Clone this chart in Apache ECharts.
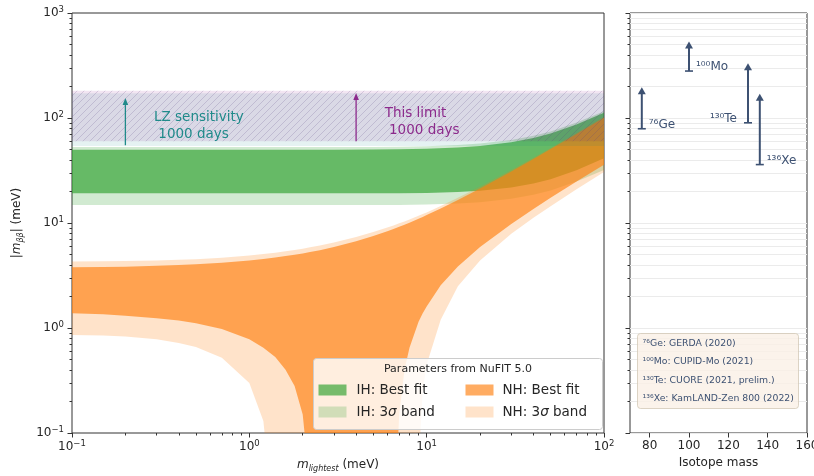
<!DOCTYPE html>
<html><head><meta charset="utf-8">
<script src="https://cdn.jsdelivr.net/npm/echarts@6/dist/echarts.min.js"></script>
<style>html,body{margin:0;padding:0;background:#fff}#c{width:814px;height:476px}</style>
</head><body><div id="c"></div>
<script>
// ---- data (meV) ----
const mLight   = [0.1,0.15,0.2,0.3,0.4,0.5,0.7,1.0,1.2,1.4,1.6,1.8,2.0,2.2,2.5,3,4,5,6,6.5,7,7.5,8,9,9.5,10,12,15,20,30,40,50,70,100];
const nhBestHi = [3.78,3.81,3.84,3.91,3.98,4.05,4.19,4.40,4.54,4.69,4.84,4.98,5.13,5.28,5.51,5.90,6.69,7.50,8.34,8.77,9.20,9.64,10.08,10.98,11.43,11.89,13.74,16.55,21.3,31.0,40.8,50.7,70.5,100.5];
const nhBestLo = [1.38,1.35,1.31,1.24,1.18,1.11,0.98,0.78,0.65,0.53,0.40,0.28,0.15,0.03,0.01,0.01,0.01,0.01,0.01,0.01,0.15,0.40,0.65,1.15,1.38,1.60,2.55,3.85,5.9,9.8,13.6,17.4,24.8,35.8];
const nh3Hi    = [4.30,4.32,4.35,4.40,4.46,4.52,4.66,4.90,5.06,5.22,5.38,5.54,5.70,5.86,6.10,6.52,7.35,8.20,9.05,9.48,9.92,10.36,10.80,11.70,12.15,12.60,14.50,17.40,22.2,32.0,41.8,51.8,71.8,102.5];
const nh3Lo    = [0.86,0.85,0.83,0.78,0.72,0.66,0.52,0.30,0.13,0.01,0.01,0.01,0.01,0.01,0.01,0.01,0.01,0.01,0.01,0.01,0.01,0.01,0.01,0.05,0.25,0.45,1.2,2.5,4.4,7.9,11.2,14.4,21.0,30.6];

const ihM      = [0.1,0.5,1,2,3,5,7,10,15,20,30,40,50,70,100];
const ihBestHi = [49.8,49.8,49.8,49.9,49.95,50.15,50.45,51.0,52.4,54.1,58.6,64.5,71.0,86.7,112.4];
const ihBestLo = [19.15,19.15,19.15,19.15,19.15,19.15,19.2,19.35,19.7,20.25,21.8,23.8,26.1,31.8,41.3];
const ih3Hi    = [52.8,52.8,52.8,52.8,52.8,53.0,53.3,53.9,55.4,57.2,61.8,67.8,74.5,90.5,116];
const ih3Lo    = [14.8,14.8,14.8,14.8,14.8,14.8,14.85,15.0,15.3,15.8,17.0,18.6,20.4,24.8,32.0];

const bandM = [0.1, 100];
const lzLo  = [54, 54],  lzHi  = [172, 172];
const limLo = [60, 60],  limHi = [182, 182];

const annoM = [0.2, 4.0], annoFrom = [55, 60], annoTo = [155, 173];
const annoTextM = [0.29, 5.8], annoTextTop = [123, 134];
const annoText = ['LZ sensitivity\n 1000 days', 'This limit\n 1000 days'];

const isoMass = [76, 100, 130, 136];
const isoLo   = [79, 280, 90, 36];
const isoHi   = [180, 490, 305, 156];
const isoNames = ['\u2077\u2076Ge', '\u00b9\u2070\u2070Mo', '\u00b9\u00b3\u2070Te', '\u00b9\u00b3\u2076Xe'];
const isoSide  = ['right', 'right', 'left', 'right'];
const isoRefs  = ['\u2077\u2076Ge: GERDA (2020)', '\u00b9\u2070\u2070Mo: CUPID-Mo (2021)', '\u00b9\u00b3\u2070Te: CUORE (2021, prelim.)', '\u00b9\u00b3\u2076Xe: KamLAND-Zen 800 (2022)'];

const xMajor = [0.1, 1, 10, 100];
const xMinor = [0.2,0.3,0.4,0.5,0.6,0.7,0.8,0.9,2,3,4,5,6,7,8,9,20,30,40,50,60,70,80,90];
const yMajor = [0.1, 1, 10, 100, 1000];
const yMinor = [0.2,0.3,0.4,0.5,0.6,0.7,0.8,0.9,2,3,4,5,6,7,8,9,20,30,40,50,60,70,80,90,200,300,400,500,600,700,800,900];
const massTicks = [80, 100, 120, 140, 160];

// ---- styles ----
const FONT = 'DejaVu Sans';
const TXT = '#262626';
const C_IH3 = 'rgba(44,160,44,0.22)', C_IH = 'rgba(44,160,44,0.65)';
const C_NH3 = 'rgba(255,127,14,0.22)', C_NH = 'rgba(255,127,14,0.65)';
const C_TEAL = '#1f8a8a', C_PURP = '#8c2a8c', C_ISO = '#3d5172';

const pat = document.createElement('canvas');
pat.width = 7; pat.height = 7;
(function(){const g = pat.getContext('2d'); g.strokeStyle = 'rgba(90,70,130,0.2)'; g.lineWidth = 1;
 g.beginPath(); g.moveTo(0,7); g.lineTo(7,0); g.moveTo(-1,1); g.lineTo(1,-1); g.moveTo(6,8); g.lineTo(8,6); g.stroke();})();
const HATCH = {image: pat, repeat: 'repeat'};

function band(name, xs, lo, hi, fills) {
  return {
    type: 'custom', name, xAxisIndex: 0, yAxisIndex: 0, clip: true, silent: true, z: 2,
    data: xs.map((x, i) => [x, lo[i], hi[i]]),
    encode: {x: 0, y: [1, 2]},
    renderItem: (params, api) => {
      if (params.dataIndex !== 0) return null;
      const pts = [];
      for (let i = 0; i < xs.length; i++) pts.push(api.coord([xs[i], hi[i]]));
      for (let i = xs.length - 1; i >= 0; i--) pts.push(api.coord([xs[i], lo[i]]));
      return {type: 'group', children: fills.map(f => ({type: 'polygon', shape: {points: pts}, style: {fill: f}}))};
    }
  };
}
function txtStyle(o) {
  const s = Object.assign({fontFamily: FONT}, o);
  if (o.align) s.textAlign = o.align;
  if (o.verticalAlign) s.textVerticalAlign = o.verticalAlign;
  if (o.fill) s.textFill = o.fill;
  if (o.lineHeight) s.textLineHeight = o.lineHeight;
  return s;
}
function onTop(el) { el.z = 200; el.zlevel = 1; return el; }

const powFmt = v => '{b|10}{s|' + String(Math.round(Math.log10(v))).replace('-', '\u2212') + '}';
const powRich = {
  b: {fontSize: 12, fontFamily: FONT, color: TXT, lineHeight: 16},
  s: {fontSize: 8.5, fontFamily: FONT, color: TXT, lineHeight: 8, verticalAlign: 'top'}
};
const nameRich = {
  n: {fontSize: 12, fontFamily: FONT, color: TXT, lineHeight: 16},
  i: {fontSize: 12, fontFamily: FONT, color: TXT, fontStyle: 'italic', lineHeight: 16},
  sub: {fontSize: 8, fontFamily: FONT, color: TXT, fontStyle: 'italic', lineHeight: 8, verticalAlign: 'bottom'}
};
const tickStyle = {color: '#333', width: 1};
const sigRich = {i: {fontStyle: 'italic', fontSize: 13.5, fontFamily: FONT, fill: TXT, textFill: TXT, color: TXT}};

const option = {
  animation: false,
  backgroundColor: '#ffffff',
  grid: [
    {left: 72, top: 13, width: 532, height: 420, show: true, borderColor: '#333', borderWidth: 1, backgroundColor: 'rgba(0,0,0,0)', containLabel: false, outerBoundsMode: 'none'},
    {left: 630, top: 13, width: 177, height: 420, show: true, borderColor: '#333', borderWidth: 1, backgroundColor: 'rgba(0,0,0,0)', containLabel: false, outerBoundsMode: 'none'},
    {left: 72, top: 13, width: 532, height: 420, containLabel: false, outerBoundsMode: 'none'},
    {left: 630, top: 13, width: 177, height: 420, containLabel: false, outerBoundsMode: 'none'}
  ],
  xAxis: [
    {gridIndex: 0, type: 'log', logBase: 10, min: 0.1, max: 100, position: 'bottom',
     axisLine: {show: false}, splitLine: {show: false},
     axisTick: {show: true, length: 4.5, lineStyle: tickStyle, customValues: xMajor},
     axisLabel: {show: true, customValues: xMajor, formatter: powFmt, rich: powRich, margin: 6, showMinLabel: true, showMaxLabel: true},
     name: '{i|m}{sub|lightest} {n|(meV)}', nameLocation: 'middle', nameGap: 24,
     nameTextStyle: {rich: nameRich, fontFamily: FONT, fontSize: 12, color: TXT}},
    {gridIndex: 1, type: 'value', min: 70, max: 160, position: 'bottom',
     axisLine: {show: false}, splitLine: {show: false},
     axisTick: {show: true, length: 4.5, lineStyle: tickStyle, customValues: massTicks},
     axisLabel: {show: true, customValues: massTicks, fontSize: 12, fontFamily: FONT, color: TXT, margin: 7, showMinLabel: true, showMaxLabel: true},
     name: 'Isotope mass', nameLocation: 'middle', nameGap: 23,
     nameTextStyle: {fontFamily: FONT, fontSize: 12, color: TXT}},
    {gridIndex: 2, type: 'log', logBase: 10, min: 0.1, max: 100, position: 'bottom',
     axisLine: {show: false}, splitLine: {show: false}, axisLabel: {show: false},
     axisTick: {show: true, length: 2.5, lineStyle: tickStyle, customValues: xMinor}},
    {gridIndex: 3, type: 'value', min: 70, max: 160, show: false}
  ],
  yAxis: [
    {gridIndex: 0, type: 'log', logBase: 10, min: 0.1, max: 1000, position: 'left',
     axisLine: {show: false}, splitLine: {show: false},
     axisTick: {show: true, length: 4.5, lineStyle: tickStyle, customValues: yMajor},
     axisLabel: {show: true, customValues: yMajor, formatter: powFmt, rich: powRich, margin: 8, showMinLabel: true, showMaxLabel: true},
     name: '|{i|m}{sub|\u03b2\u03b2}| {n|(meV)}', nameLocation: 'middle', nameGap: 43, nameRotate: 90,
     nameTextStyle: {rich: nameRich, fontFamily: FONT, fontSize: 12, color: TXT}},
    {gridIndex: 1, type: 'log', logBase: 10, min: 0.1, max: 1000, position: 'left',
     axisLine: {show: false}, axisLabel: {show: false},
     axisTick: {show: true, length: 4.5, lineStyle: tickStyle, customValues: yMajor},
     splitLine: {show: true, lineStyle: {color: '#ebebeb', width: 1}}},
    {gridIndex: 2, type: 'log', logBase: 10, min: 0.1, max: 1000, position: 'left',
     axisLine: {show: false}, axisLabel: {show: false}, splitLine: {show: false},
     axisTick: {show: true, length: 2.5, lineStyle: tickStyle, customValues: yMinor}},
    {gridIndex: 3, type: 'log', logBase: 10, min: 0.1, max: 1000, position: 'left',
     axisLine: {show: false}, axisLabel: {show: false},
     axisTick: {show: true, length: 2.5, lineStyle: tickStyle, customValues: yMinor},
     splitLine: {show: true, lineStyle: {color: '#ebebeb', width: 1}}}
  ],
  series: [
    band('IH 3sigma', ihM, ih3Lo, ih3Hi, [C_IH3]),
    band('IH best', ihM, ihBestLo, ihBestHi, [C_IH]),
    band('NH 3sigma', mLight, nh3Lo, nh3Hi, [C_NH3]),
    band('NH best', mLight, nhBestLo, nhBestHi, [C_NH]),
    band('LZ', bandM, lzLo, lzHi, ['rgba(0,128,128,0.1)']),
    band('This limit', bandM, limLo, limHi, ['rgba(128,0,128,0.1)', HATCH]),
    {
      type: 'custom', name: 'annotations', xAxisIndex: 0, yAxisIndex: 0, silent: true, z: 3,
      data: annoM.map((m, i) => [m, annoFrom[i], annoTo[i]]),
      encode: {x: 0, y: [1, 2]},
      renderItem: (params, api) => {
        const i = params.dataIndex;
        const col = i === 0 ? C_TEAL : C_PURP;
        const p0 = api.coord([annoM[i], annoFrom[i]]);
        const p1 = api.coord([annoM[i], annoTo[i]]);
        const t = api.coord([annoTextM[i], annoTextTop[i]]);
        return {type: 'group', children: [
          {type: 'line', shape: {x1: p0[0], y1: p0[1], x2: p1[0], y2: p1[1] + 5}, style: {stroke: col, lineWidth: 1.3}},
          {type: 'polygon', shape: {points: [[p1[0], p1[1]], [p1[0] - 2.8, p1[1] + 7], [p1[0] + 2.8, p1[1] + 7]]}, style: {fill: col}},
          {type: 'text', x: t[0], y: t[1], style: txtStyle({text: annoText[i], fill: col, fontSize: 13.5, lineHeight: 17, align: 'left', verticalAlign: 'top'})}
        ]};
      }
    },
    {
      type: 'custom', name: 'isotopes', xAxisIndex: 1, yAxisIndex: 1, silent: true, z: 3,
      data: isoMass.map((m, i) => [m, isoLo[i], isoHi[i]]),
      encode: {x: 0, y: [1, 2]},
      renderItem: (params, api) => {
        const i = params.dataIndex;
        const pLo = api.coord([api.value(0), api.value(1)]);
        const pHi = api.coord([api.value(0), api.value(2)]);
        const right = isoSide[i] === 'right';
        return {type: 'group', children: [
          {type: 'line', shape: {x1: pLo[0], y1: pLo[1], x2: pHi[0], y2: pHi[1] + 2}, style: {stroke: C_ISO, lineWidth: 2}},
          {type: 'line', shape: {x1: pLo[0] - 4, y1: pLo[1], x2: pLo[0] + 4, y2: pLo[1]}, style: {stroke: C_ISO, lineWidth: 1.6}},
          {type: 'polygon', shape: {points: [[pHi[0], pHi[1] - 4], [pHi[0] - 4, pHi[1] + 3], [pHi[0] + 4, pHi[1] + 3]]}, style: {fill: C_ISO}},
          {type: 'text', x: pLo[0] + (right ? 7 : -11), y: pLo[1] - 4,
           style: txtStyle({text: isoNames[i], fill: C_ISO, fontSize: 12, align: right ? 'left' : 'right', verticalAlign: 'middle'})}
        ]};
      }
    }
  ],
  graphic: [
    onTop({type: 'group', left: 313, top: 358, children: [
      onTop({type: 'rect', shape: {x: 0, y: 0, width: 289, height: 71, r: 3}, style: {fill: 'rgba(255,255,255,0.82)', stroke: '#cccccc', lineWidth: 1}}),
      onTop({type: 'text', x: 144.5, y: 11, style: txtStyle({text: 'Parameters from NuFIT 5.0', fill: TXT, fontSize: 11, align: 'center', verticalAlign: 'middle'})}),
      onTop({type: 'rect', shape: {x: 5, y: 26, width: 28, height: 11}, style: {fill: C_IH}}),
      onTop({type: 'text', x: 43, y: 32, style: txtStyle({text: 'IH: Best fit', fill: TXT, fontSize: 13.5, align: 'left', verticalAlign: 'middle'})}),
      onTop({type: 'rect', shape: {x: 152, y: 26, width: 28, height: 11}, style: {fill: C_NH}}),
      onTop({type: 'text', x: 189, y: 32, style: txtStyle({text: 'NH: Best fit', fill: TXT, fontSize: 13.5, align: 'left', verticalAlign: 'middle'})}),
      onTop({type: 'rect', shape: {x: 5, y: 48, width: 28, height: 11}, style: {fill: C_IH3}}),
      onTop({type: 'text', x: 43, y: 54, style: txtStyle({text: 'IH: 3{i|\u03c3} band', fill: TXT, fontSize: 13.5, align: 'left', verticalAlign: 'middle', rich: sigRich})}),
      onTop({type: 'rect', shape: {x: 152, y: 48, width: 28, height: 11}, style: {fill: C_NH3}}),
      onTop({type: 'text', x: 189, y: 54, style: txtStyle({text: 'NH: 3{i|\u03c3} band', fill: TXT, fontSize: 13.5, align: 'left', verticalAlign: 'middle', rich: sigRich})})
    ]}),
    onTop({type: 'group', left: 637, top: 333, children: [
      onTop({type: 'rect', shape: {x: 0, y: 0, width: 161, height: 75, r: 3}, style: {fill: 'rgba(250,240,230,0.8)', stroke: 'rgba(205,195,175,0.7)', lineWidth: 1}})
    ].concat(isoRefs.map((t, i) => onTop({type: 'text', x: 5, y: 10 + 18.3 * i,
      style: txtStyle({text: t, fill: C_ISO, fontSize: 9.3, align: 'left', verticalAlign: 'middle'})}))) })
  ]
};
const chart = echarts.init(document.getElementById('c'), null, {renderer: 'canvas'});
chart.setOption(option);
</script></body></html>
